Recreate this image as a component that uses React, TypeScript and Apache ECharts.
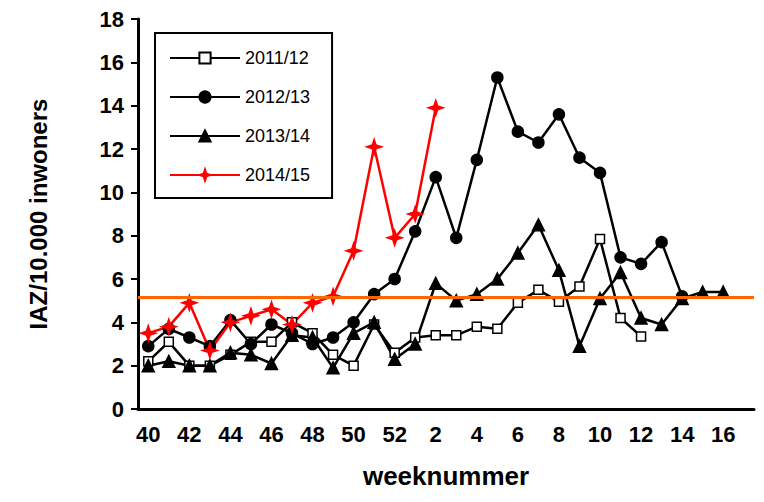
import { useEffect, useRef } from "react";
import * as echarts from "echarts";

const weeks = ["40","41","42","43","44","45","46","47","48","49","50","51","52","1","2","3","4","5","6","7","8","9","10","11","12","13","14","15","16","17"];
const s1112 = [2.2,3.1,2.0,2.0,2.5,3.1,3.1,4.0,3.5,2.5,2.0,3.9,2.6,3.3,3.4,3.4,3.8,3.7,4.9,5.5,4.95,5.65,7.85,4.2,3.35,null,null,null,null,null];
const s1213 = [2.9,3.7,3.3,2.9,4.1,3.0,3.9,3.5,3.0,3.3,4.0,5.3,6.0,8.2,10.7,7.9,11.5,15.3,12.8,12.3,13.6,11.6,10.9,7.0,6.7,7.7,5.2,null,null,null];
const s1314 = [2.0,2.2,2.0,2.0,2.6,2.5,2.1,3.4,3.3,1.9,3.5,4.0,2.3,3.0,5.8,5.0,5.3,6.0,7.2,8.5,6.4,2.9,5.1,6.3,4.2,3.9,5.1,5.4,5.4,null];
const s1415 = [3.5,3.8,4.9,2.7,4.0,4.3,4.6,3.9,4.9,5.2,7.3,12.1,7.9,9.0,13.9,null,null,null,null,null,null,null,null,null,null,null,null,null,null,null];
const threshold = 5.15;

const star = "path://M0,-10 L2.5,-2.5 L10,0 L2.5,2.5 L0,10 L-2.5,2.5 L-10,0 L-2.5,-2.5Z";
const font = "Arial, 'Liberation Sans', sans-serif";

export default function App() {
  const ref = useRef<HTMLDivElement>(null);
  useEffect(() => {
    if (!ref.current) return;
    const chart = echarts.init(ref.current, null, { renderer: "svg" });
    const line = (name: string, data: (number | null)[], symbol: string, color: string, size: number, fill: string) => ({
      name, type: "line", data, symbol, symbolSize: size, color, showAllSymbol: true,
      lineStyle: { color, width: 2.5 },
      itemStyle: { color: fill, borderColor: color, borderWidth: 1.5 },
    });
    chart.setOption({
      animation: false,
      textStyle: { fontFamily: font },
      grid: { left: 130, right: 2, top: 10, bottom: 84 },
      legend: {
        orient: "vertical", left: 147, top: 25, padding: [16, 22, 14, 14], itemGap: 21,
        borderColor: "#000", borderWidth: 2, itemWidth: 70, itemHeight: 14,
        textStyle: { fontSize: 18, color: "#000" },
        data: ["2011/12", "2012/13", "2013/14", "2014/15"],
      },
      xAxis: {
        type: "category", data: weeks, boundaryGap: true,
        name: "weeknummer", nameLocation: "middle", nameGap: 54,
        nameTextStyle: { fontSize: 26, fontWeight: "bold", color: "#000" },
        axisLine: { lineStyle: { color: "#000", width: 3 } },
        axisTick: { lineStyle: { color: "#000", width: 2 }, length: 7 },
        axisLabel: { interval: 1, fontSize: 22, fontWeight: "bold", color: "#000", margin: 14 },
      },
      yAxis: {
        type: "value", min: 0, max: 18, interval: 2,
        name: "IAZ/10.000 inwoners", nameLocation: "middle", nameGap: 88,
        nameTextStyle: { fontSize: 24, fontWeight: "bold", color: "#000" },
        axisLine: { show: true, lineStyle: { color: "#000", width: 3 } },
        axisTick: { show: true, lineStyle: { color: "#000", width: 2 }, length: 7 },
        axisLabel: { fontSize: 22, fontWeight: "bold", color: "#000", margin: 14 },
        splitLine: { show: false },
      },
      series: [
        line("2011/12", s1112, "rect", "#000", 9, "#fff"),
        line("2012/13", s1213, "circle", "#000", 11, "#000"),
        line("2013/14", s1314, "triangle", "#000", 12, "#000"),
        {
          ...line("2014/15", s1415, star, "#ff0000", 15, "#ff0000"),
          markLine: {
            silent: true, symbol: "none", label: { show: false },
            lineStyle: { color: "#ff6600", width: 3, type: "solid" },
            data: [{ yAxis: threshold }],
          },
        },
      ],
    });
    return () => chart.dispose();
  }, []);
  return <div ref={ref} style={{ width: 748, height: 486 }} />;
}
